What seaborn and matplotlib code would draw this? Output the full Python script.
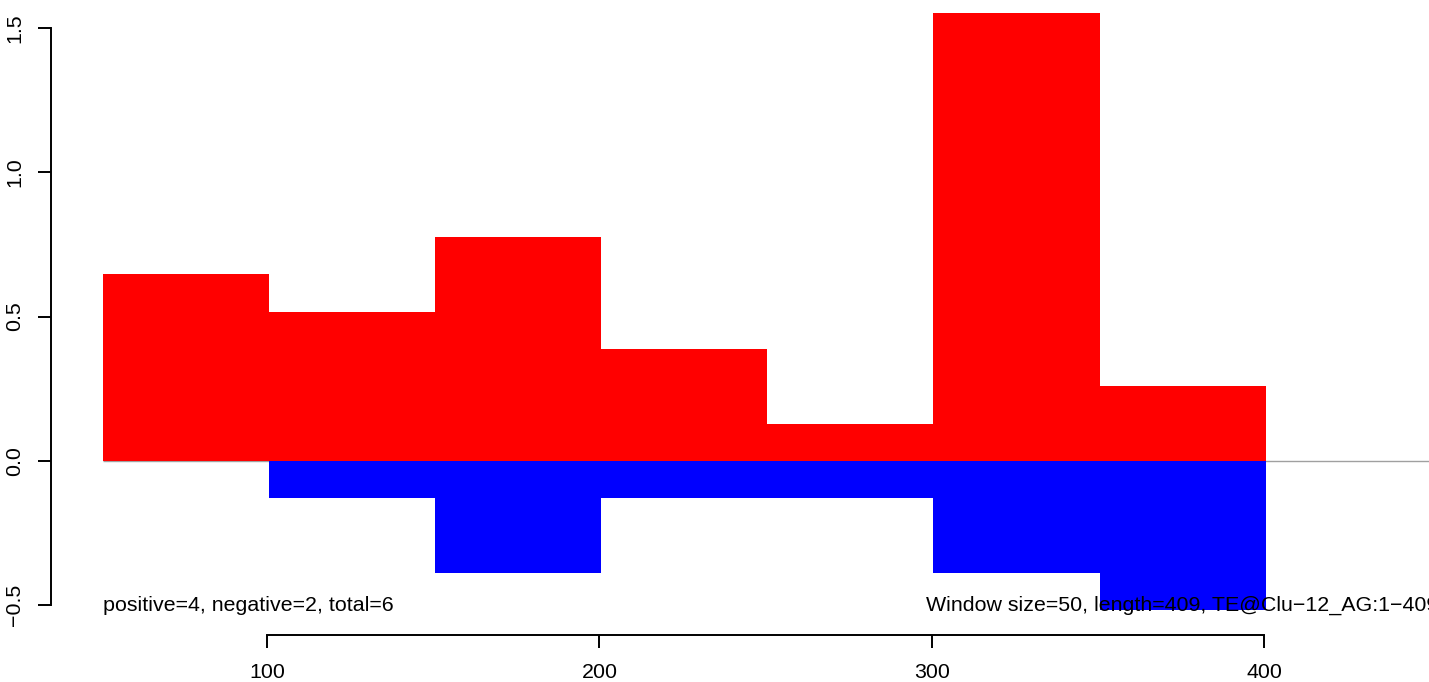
import numpy as np
import pandas as pd
import seaborn as sns
import matplotlib.pyplot as plt

# Data: window starts (1-based) and per-window scores
window_start = [51, 101, 151, 201, 251, 301, 351]
window_size = 50
pos_score = [0.647, 0.517, 0.776, 0.388, 0.129, 1.552, 0.259]
neg_score = [0.0, -0.129, -0.388, -0.129, -0.129, -0.388, -0.517]
x_ticks = [100, 200, 300, 400]
y_ticks = [-0.5, 0.0, 0.5, 1.0, 1.5]
left_note = "positive=4, negative=2, total=6"
right_note = "Window size=50, length=409, TE@Clu\u221212_AG:1\u2212409"

sns.set_style("ticks")
plt.rcParams['font.family'] = ['Liberation Sans', 'DejaVu Sans']
plt.rcParams['axes.unicode_minus'] = True
plt.rcParams['text.color'] = 'black'
FS = 15.4

W, H = 1429, 682
fig = plt.figure(figsize=(W / 100, H / 100), dpi=100)
# plot region in pixels: left 51, right 1442, bottom 635, top -11
ax = fig.add_axes([51 / W, (H - 635) / H, (1442 - 51) / W, (635 + 11) / H])

starts = np.array(window_start, dtype=float)
edges = list(np.append(starts - 0.5, starts[-1] - 0.5 + window_size))
df = pd.DataFrame({'mid': starts - 0.5 + window_size / 2,
                   'pos': pos_score, 'neg': neg_score})

xlim = (35.0, 453.5)
ax.hlines(0, edges[0], xlim[1], color='#a0a0a0', lw=1.0, zorder=0)

sns.histplot(data=df, x='mid', weights='pos', bins=edges, color='#ff0000',
             alpha=1, linewidth=0, ax=ax, zorder=2)
sns.histplot(data=df, x='mid', weights='neg', bins=edges, color='#0000ff',
             alpha=1, linewidth=0, ax=ax, zorder=2)

ax.set_xlim(*xlim)
ax.set_ylim(-0.603, 1.635)
ax.set_xlabel('')
ax.set_ylabel('')
ax.set_xticks(x_ticks)
ax.set_yticks(y_ticks)
ax.set_xticklabels([str(t) for t in x_ticks])
ax.set_yticklabels([f'{t:.1f}'.replace('-', '\u2212') for t in y_ticks],
                   rotation=90, va='center')

for s in ['top', 'right']:
    ax.spines[s].set_visible(False)
ax.spines['left'].set_bounds(y_ticks[0], y_ticks[-1])
ax.spines['bottom'].set_bounds(x_ticks[0], x_ticks[-1])
for s in ['left', 'bottom']:
    ax.spines[s].set_linewidth(1.4)
    ax.spines[s].set_color('black')
ax.tick_params(axis='both', direction='out', length=9.4, width=1.4,
               color='black', labelsize=FS, labelcolor='black')
ax.tick_params(axis='x', pad=11)
ax.tick_params(axis='y', pad=10)
ax.grid(False)

ax.text(edges[0], -0.5, left_note, ha='left', va='center', fontsize=FS,
        color='black', zorder=3)
ax.text(xlim[1] - 1.0, -0.5, right_note, ha='right', va='center', fontsize=FS,
        color='black', zorder=3)

fig.savefig('out.png', dpi=100)
